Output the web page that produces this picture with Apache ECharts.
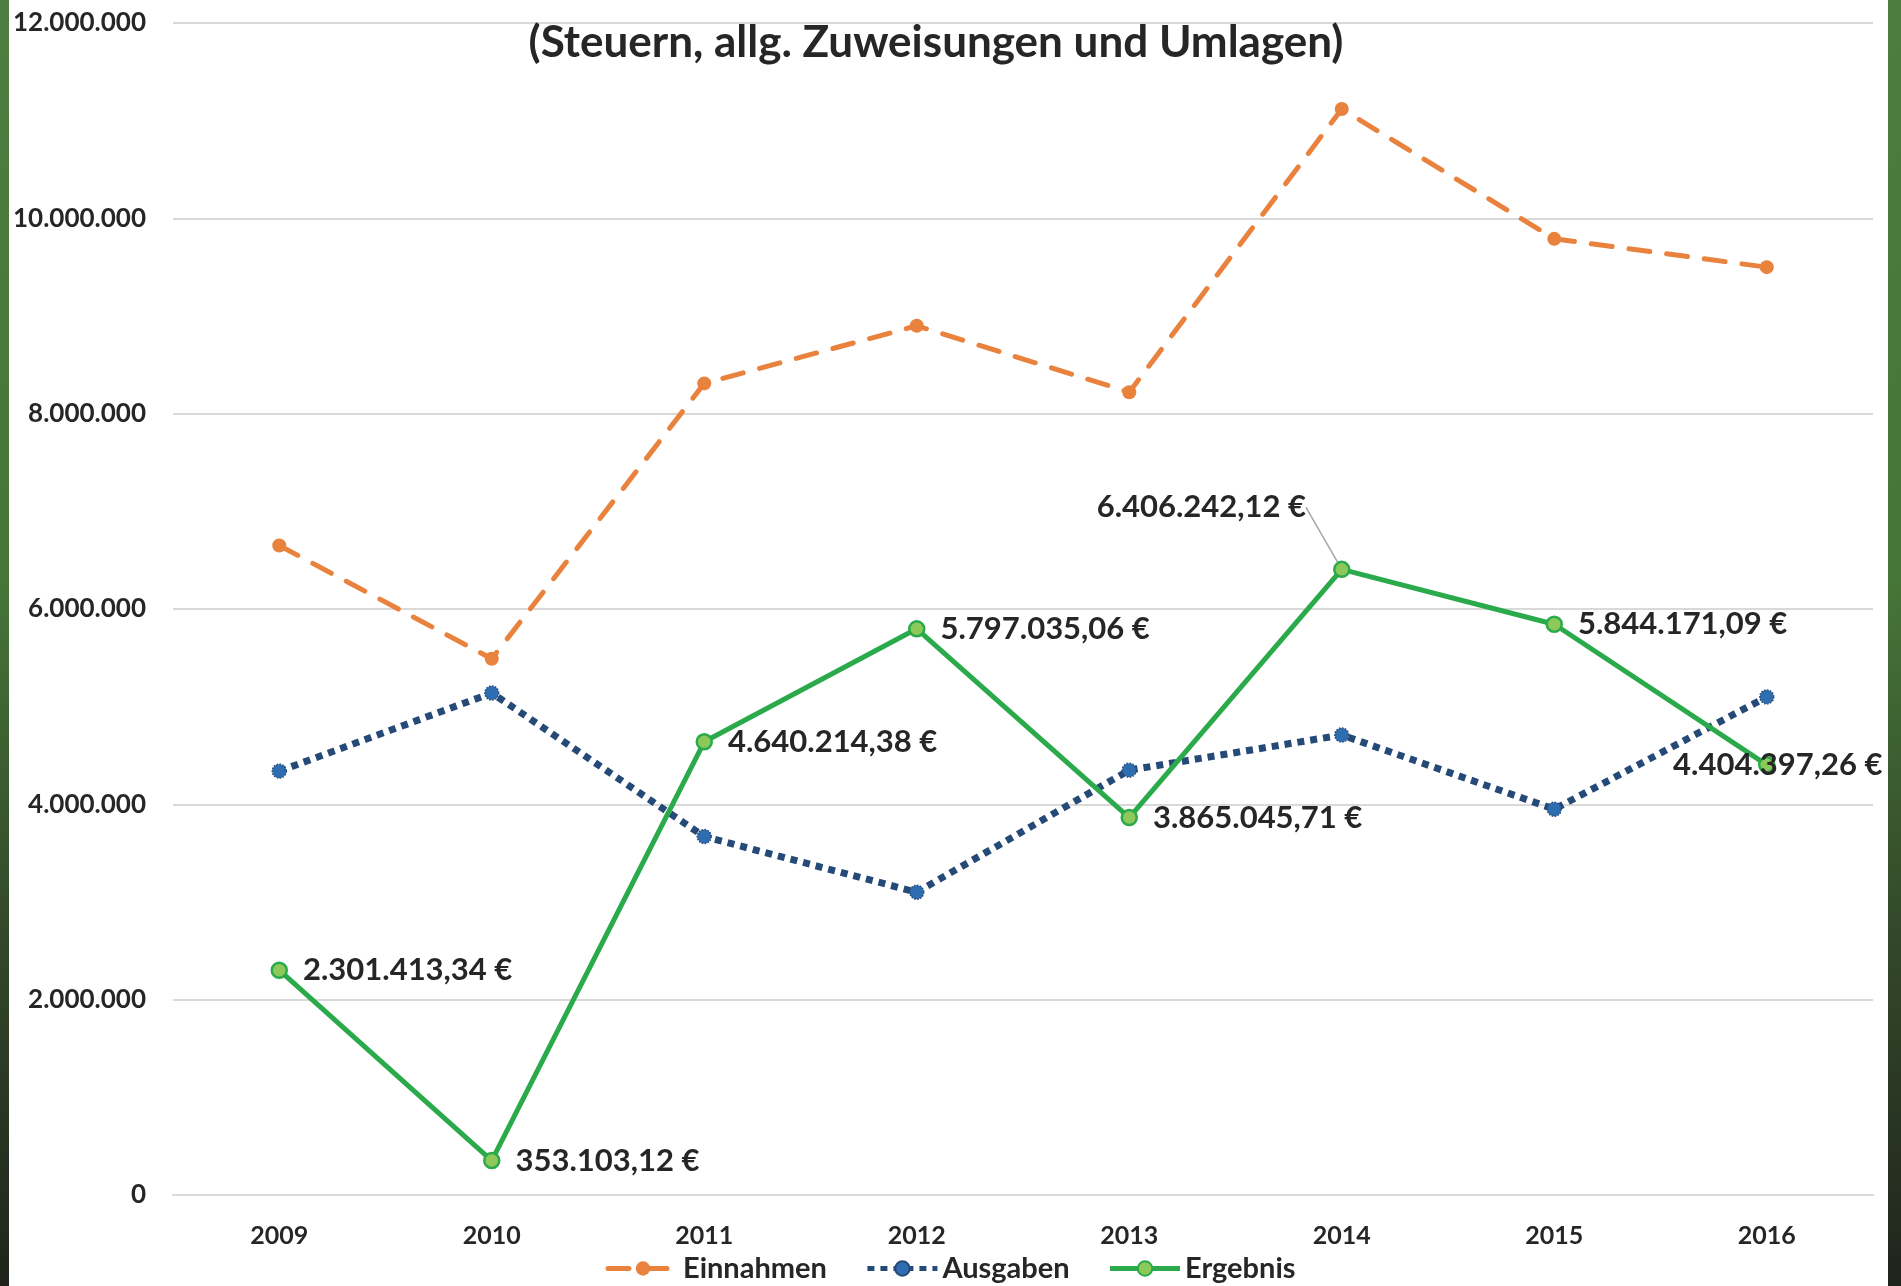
<!DOCTYPE html>
<html>
<head>
<meta charset="utf-8">
<script src="https://cdn.jsdelivr.net/npm/echarts@6/dist/echarts.min.js"></script>
<style>
  html, body { margin: 0; padding: 0; background: #fff; }
  #chart { width: 1901px; height: 1286px; }
</style>
</head>
<body>
<div id="chart"></div>
<script>
  const years = ['2009', '2010', '2011', '2012', '2013', '2014', '2015', '2016']
  const einnahmen = [6650000, 5490000, 8310000, 8900000, 8220000, 11120000, 9790000, 9500000]
  const ausgaben = [4340000, 5140000, 3670000, 3100000, 4350000, 4710000, 3950000, 5100000]
  const ergebnis = [2301413.34, 353103.12, 4640214.38, 5797035.06, 3865045.71, 6406242.12, 5844171.09, 4404397.26]
  const yTicks = [0, 2000000, 4000000, 6000000, 8000000, 10000000, 12000000]

  const fontFamily = 'Lato, "Open Sans", sans-serif'
  const textColor = '#262626'

  function dots(n) {
    return String(n).replace(/\B(?=(\d{3})+(?!\d))/g, '.')
  }
  function euro(v) {
    const parts = v.toFixed(2).split('.')
    return dots(parts[0]) + ',' + parts[1] + ' €'
  }

  const stripFill = () => new echarts.graphic.LinearGradient(0, 0, 0, 1, [
    { offset: 0, color: '#4d7d40' },
    { offset: 0.45, color: '#467538' },
    { offset: 0.72, color: '#33492a' },
    { offset: 1, color: '#20241c' }
  ])

  const chart = echarts.init(document.getElementById('chart'))
  chart.setOption({
    backgroundColor: '#ffffff',
    animation: false,
    textStyle: { fontFamily: fontFamily },
    title: {
      text: '(Steuern, allg. Zuweisungen und Umlagen)',
      left: 931,
      top: 16,
      textAlign: 'center',
      textStyle: { fontFamily: fontFamily, fontSize: 44, fontWeight: 'bold', color: textColor }
    },
    graphic: [
      { type: 'rect', left: 0, top: 0, z: 100, shape: { width: 9, height: 1286 }, style: { fill: stripFill() } },
      { type: 'rect', left: 1888, top: 0, z: 100, shape: { width: 13, height: 1286 }, style: { fill: stripFill() } }
    ],
    grid: { left: 173, right: 28, top: 23, bottom: 91, containLabel: false },
    legend: {
      bottom: -2,
      left: 'center',
      itemWidth: 70,
      itemHeight: 18,
      itemGap: 38,
      lineStyle: { width: 5 },
      textStyle: { fontFamily: fontFamily, fontSize: 29, fontWeight: 'bold', color: textColor },
      data: ['Einnahmen', 'Ausgaben', 'Ergebnis']
    },
    xAxis: {
      type: 'category',
      data: years,
      boundaryGap: true,
      axisLine: { show: true, lineStyle: { color: '#d9d9d9', width: 2 } },
      axisTick: { show: false },
      axisLabel: { margin: 28, fontSize: 25, fontWeight: 'bold', color: textColor, fontFamily: fontFamily }
    },
    yAxis: {
      type: 'value',
      min: yTicks[0],
      max: yTicks[yTicks.length - 1],
      interval: yTicks[1] - yTicks[0],
      axisLine: { show: false },
      axisTick: { show: false },
      splitLine: { lineStyle: { color: '#d9d9d9', width: 2 } },
      axisLabel: {
        margin: 27,
        fontSize: 26,
        fontWeight: 'bold',
        color: textColor,
        fontFamily: fontFamily,
        formatter: (v) => dots(v)
      }
    },
    series: [
      {
        name: 'Einnahmen',
        type: 'line',
        data: einnahmen,
        symbol: 'circle',
        symbolSize: 14,
        itemStyle: { color: '#e8823d' },
        lineStyle: { color: '#e8823d', width: 5, type: [21, 17], cap: 'round' },
        z: 2
      },
      {
        name: 'Ausgaben',
        type: 'line',
        data: ausgaben,
        symbol: 'circle',
        symbolSize: 14,
        itemStyle: { color: '#2e6db0', borderColor: '#264a78', borderWidth: 1.5, borderType: 'dotted' },
        lineStyle: { color: '#264a78', width: 7, type: [7, 6] },
        z: 3
      },
      {
        name: 'Ergebnis',
        type: 'line',
        data: ergebnis.map((v, i) => {
          if (i === 5) {
            return { value: v, label: { position: 'left' }, labelLine: { show: true } }
          }
          if (i === 7) {
            return { value: v, label: { position: 'inside' } }
          }
          return v
        }),
        symbol: 'circle',
        symbolSize: 15,
        itemStyle: { color: '#8dc95a', borderColor: '#2aaa4a', borderWidth: 2.5 },
        lineStyle: { color: '#2aaa4a', width: 5 },
        label: {
          show: true,
          position: 'right',
          distance: 15,
          fontSize: 31,
          fontWeight: 'bold',
          color: textColor,
          fontFamily: fontFamily,
          formatter: (p) => euro(p.value)
        },
        labelLine: { show: false, lineStyle: { color: '#a6a6a6', width: 1.5 } },
        labelLayout: (p) => {
          if (p.dataIndex === 5) return { dx: -12, dy: -62 }
          if (p.dataIndex === 7) return { dx: 11 }
          return {}
        },
        z: 4
      }
    ]
  })
</script>
</body>
</html>
